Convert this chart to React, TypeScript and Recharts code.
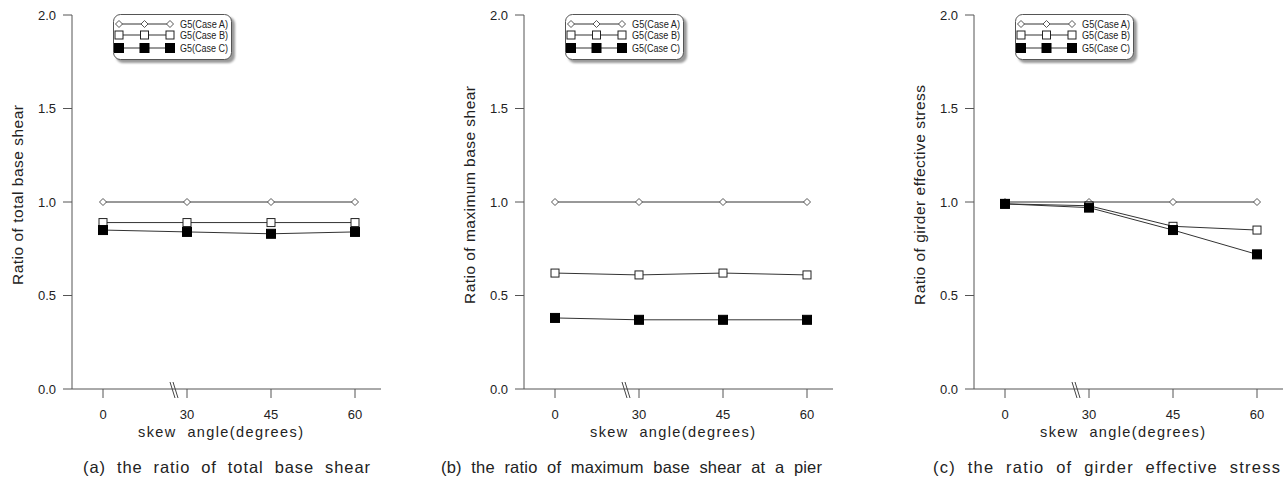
import React from 'react';
import { LineChart, Line, XAxis, YAxis, Legend } from 'recharts';

const skewAngles = ['0', '30', '45', '60'];
const yTicks = [0, 0.5, 1.0, 1.5, 2.0];
const seriesNames = ['G5(Case A)', 'G5(Case B)', 'G5(Case C)'];

// (a) total base shear
const totalShearA = [1.0, 1.0, 1.0, 1.0];
const totalShearB = [0.89, 0.89, 0.89, 0.89];
const totalShearC = [0.85, 0.84, 0.83, 0.84];

// (b) maximum base shear at a pier
const pierShearA = [1.0, 1.0, 1.0, 1.0];
const pierShearB = [0.62, 0.61, 0.62, 0.61];
const pierShearC = [0.38, 0.37, 0.37, 0.37];

// (c) girder effective stress
const girderStressA = [1.0, 1.0, 1.0, 1.0];
const girderStressB = [0.99, 0.98, 0.87, 0.85];
const girderStressC = [0.99, 0.97, 0.85, 0.72];

const FONT = '"Liberation Sans", Arial, sans-serif';
const INK = '#333';

const buildRows = (a: number[], b: number[], c: number[]) =>
  skewAngles.map((angle, i) => ({ angle, a: a[i], b: b[i], c: c[i] }));

type MarkerKind = 'diamond' | 'open' | 'filled';
const markerKinds: MarkerKind[] = ['diamond', 'open', 'filled'];

const Marker = ({ cx, cy, kind }: { cx: number; cy: number; kind: MarkerKind }) => {
  if (kind === 'diamond') {
    return (
      <path
        d={`M${cx},${cy - 3.5}L${cx + 3.5},${cy}L${cx},${cy + 3.5}L${cx - 3.5},${cy}Z`}
        fill="#fff"
        stroke="#555"
        strokeWidth={1}
      />
    );
  }
  if (kind === 'open') {
    return <rect x={cx - 4} y={cy - 4} width={8} height={8} fill="#fff" stroke="#222" strokeWidth={1} />;
  }
  return <rect x={cx - 4.5} y={cy - 4.5} width={9} height={9} fill="#000" stroke="#000" strokeWidth={1} />;
};

const LegendBox = () => (
  <div style={{ position: 'relative', width: 123, height: 50 }}>
    <div
      style={{
        position: 'absolute', left: 3, top: 3, width: 119, height: 46,
        borderRadius: 7, background: '#9a9a9a', filter: 'blur(1px)',
      }}
    />
    <svg style={{ position: 'absolute', left: 0, top: 0 }} width={121} height={48}>
      <rect x={0.5} y={0.5} width={118} height={45} rx={7} fill="#fff" stroke="#555" />
      {seriesNames.map((name, i) => {
        const y = [10, 21, 34][i];
        return (
          <g key={name}>
            <line x1={6} y1={y} x2={57} y2={y} stroke={INK} strokeWidth={1} />
            {[6, 31.5, 57].map((x) => (
              <Marker key={x} cx={x} cy={y} kind={markerKinds[i]} />
            ))}
            <text x={67} y={y + 3.5} fontSize={10} fill="#222" fontFamily={FONT} textLength={48} lengthAdjust="spacingAndGlyphs">
              {name}
            </text>
          </g>
        );
      })}
    </svg>
  </div>
);

const AngleTick = (props: any) => {
  const { x, y, payload } = props;
  const axisY = y - 21;
  return (
    <g>
      <text x={x} y={y} dy="0.71em" textAnchor="middle" fontSize={13} fill="#222" fontFamily={FONT}>
        {payload.value}
      </text>
      {payload.value === '30' && (
        <g stroke="#444" strokeWidth={1}>
          <line x1={x - 17} y1={axisY - 7} x2={x - 12} y2={axisY + 9} />
          <line x1={x - 14} y1={axisY - 7} x2={x - 9} y2={axisY + 9} />
        </g>
      )}
    </g>
  );
};

interface PanelProps {
  rows: { angle: string; a: number; b: number; c: number }[];
  yLabel: string;
  yLabelLength: number;
  left: number;
}

const Panel: React.FC<PanelProps> = ({ rows, yLabel, yLabelLength, left }) => {
  const renderYLabel = (p: any) => {
    const vb = p.viewBox;
    const cx = vb.x + 17;
    const cy = vb.y + vb.height / 2 - 7;
    return (
      <text
        x={cx}
        y={cy}
        transform={`rotate(-90 ${cx} ${cy})`}
        textAnchor="middle"
        dominantBaseline="central"
        fontSize={15.5}
        fill="#222"
        fontFamily={FONT}
        textLength={yLabelLength}
        lengthAdjust="spacing"
      >
        {yLabel}
      </text>
    );
  };

  const renderXLabel = (p: any) => {
    const vb = p.viewBox;
    const cx = vb.x + vb.width / 2 - 6;
    return (
      <text
        x={cx}
        y={vb.y + 48}
        textAnchor="middle"
        fontSize={14.5}
        fill="#222"
        fontFamily={FONT}
        textLength={165}
        lengthAdjust="spacing"
        style={{ whiteSpace: 'pre' }}
      >
        {'skew  angle(degrees)'}
      </text>
    );
  };

  return (
    <div style={{ position: 'absolute', left, top: 0 }}>
      <LineChart width={390} height={482} data={rows} margin={{ top: 15, right: 9, left: 0, bottom: 33 }}>
        <XAxis
          dataKey="angle"
          type="category"
          padding={{ left: 31, right: 26 }}
          height={60}
          tickSize={9}
          tickMargin={12}
          tick={<AngleTick />}
          axisLine={{ stroke: '#555' }}
          tickLine={{ stroke: '#555' }}
          label={{ content: renderXLabel }}
        />
        <YAxis
          type="number"
          domain={[0, 2]}
          ticks={yTicks}
          interval={0}
          width={72}
          tickSize={9}
          tickMargin={7}
          tickFormatter={(v: number) => v.toFixed(1)}
          tick={{ fontSize: 13, fill: '#222', fontFamily: FONT }}
          axisLine={{ stroke: '#555' }}
          tickLine={{ stroke: '#555' }}
          label={{ content: renderYLabel }}
        />
        {(['a', 'b', 'c'] as const).map((key, i) => (
          <Line
            key={key}
            dataKey={key}
            name={seriesNames[i]}
            stroke={INK}
            strokeWidth={1}
            isAnimationActive={false}
            dot={(p: any) => <Marker key={`${key}-${p.index}`} cx={p.cx} cy={p.cy} kind={markerKinds[i]} />}
            activeDot={false}
          />
        ))}
        <Legend
          layout="horizontal"
          verticalAlign="middle"
          align="center"
          content={<LegendBox />}
          wrapperStyle={{ left: 113, top: 14, width: 'auto', bottom: 'auto', right: 'auto' }}
        />
      </LineChart>
    </div>
  );
};

const panels = [
  { rows: buildRows(totalShearA, totalShearB, totalShearC), yLabel: 'Ratio of total base shear', yLabelLength: 180, left: 0 },
  { rows: buildRows(pierShearA, pierShearB, pierShearC), yLabel: 'Ratio of maximum base shear', yLabelLength: 218, left: 452 },
  { rows: buildRows(girderStressA, girderStressB, girderStressC), yLabel: 'Ratio of girder effective stress', yLabelLength: 220, left: 902 },
];

const captions = [
  { text: '(a)  the  ratio  of  total  base  shear', x: 83, width: 287 },
  { text: '(b)  the  ratio  of  maximum  base  shear  at  a  pier', x: 441, width: 381 },
  { text: '(c)  the  ratio  of  girder  effective  stress', x: 933, width: 347 },
];

export default function App() {
  return (
    <div style={{ position: 'absolute', left: 0, top: 0, width: 1287, height: 482, background: '#fff', fontFamily: FONT }}>
      {panels.map((p) => (
        <Panel key={p.yLabel} {...p} />
      ))}
      <svg style={{ position: 'absolute', left: 0, top: 0, pointerEvents: 'none' }} width={1287} height={482}>
        {captions.map((c) => (
          <text
            key={c.text}
            x={c.x}
            y={473}
            fontSize={16.5}
            fill="#222"
            fontFamily={FONT}
            textLength={c.width}
            lengthAdjust="spacing"
            style={{ whiteSpace: 'pre' }}
          >
            {c.text}
          </text>
        ))}
      </svg>
    </div>
  );
}
